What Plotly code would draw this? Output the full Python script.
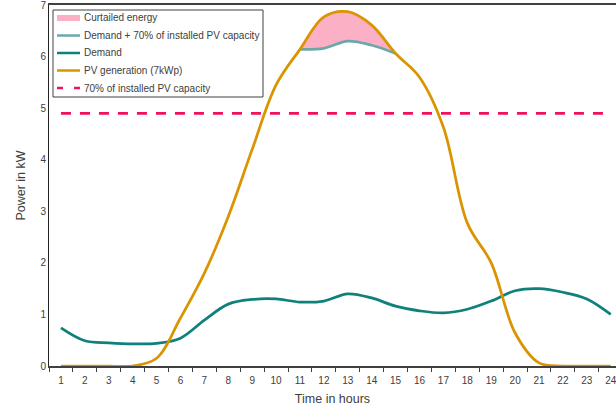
import plotly.graph_objects as go

hours = list(range(1, 25))
tick_labels = [str(h) for h in hours]
pv_generation = [0, 0, 0, 0, 0.15, 0.93, 1.8, 2.9, 4.2, 5.45, 6.14, 6.77,
                 6.87, 6.61, 6.06, 5.6, 4.63, 2.77, 2.0, 0.64, 0.06, 0, 0, 0]
demand = [0.74, 0.49, 0.45, 0.43, 0.44, 0.54, 0.89, 1.2, 1.29, 1.3, 1.24, 1.26,
          1.4, 1.32, 1.16, 1.07, 1.03, 1.1, 1.26, 1.46, 1.5, 1.43, 1.3, 1.0]
limit_70 = 4.9
curtail_hours = [11, 12, 13, 14, 15]

limit_line = [limit_70] * len(hours)
demand_plus = [demand[h - 1] + limit_70 for h in curtail_hours]
pv_curtail = [pv_generation[h - 1] for h in curtail_hours]

FONT = "Liberation Sans"
TXT = "#404040"
C_PLUS = "#6DA8A8"
C_CURT = "#FBB0C6"
C_DEM = "#0F807C"
C_PV = "#D99400"
C_LIM = "#F2105C"
LW = 2.75

W, H = 616, 411
ML, MR, MT, MB = 49, 0, 5, 45
PW, PH = W - ML - MR, H - MT - MB


def px(x):
    return (x - ML) / PW


def py(y):
    return (H - MB - y) / PH


fig = go.Figure()
fig.add_trace(go.Scatter(
    x=curtail_hours, y=demand_plus, mode="lines", name="Demand + 70% of installed PV capacity",
    line=dict(color=C_PLUS, width=LW, shape="spline")))
fig.add_trace(go.Scatter(
    x=curtail_hours, y=pv_curtail, mode="lines", name="Curtailed energy",
    line=dict(color=C_CURT, width=0, shape="spline"), fill="tonexty", fillcolor=C_CURT))
fig.add_trace(go.Scatter(
    x=hours, y=demand, mode="lines", name="Demand",
    line=dict(color=C_DEM, width=LW, shape="spline")))
fig.add_trace(go.Scatter(
    x=hours, y=pv_generation, mode="lines", name="PV generation (7kWp)",
    line=dict(color=C_PV, width=LW, shape="spline")))
fig.add_trace(go.Scatter(
    x=hours, y=limit_line, mode="lines", name="70% of installed PV capacity",
    line=dict(color=C_LIM, width=LW, dash="10px,9px")))

# custom legend (box, symbols, labels)
legend_items = ["Curtailed energy", "Demand + 70% of installed PV capacity", "Demand",
                "PV generation (7kWp)", "70% of installed PV capacity"]
legend_rows = [18, 35.5, 53, 70.5, 88]
shapes = [dict(type="rect", xref="paper", yref="paper", x0=px(53), x1=px(263), y0=py(97), y1=py(10),
               line=dict(color="#404040", width=1), fillcolor="white", layer="above")]
annotations = []
sym_colors = [C_CURT, C_PLUS, C_DEM, C_PV, C_LIM]
for i, (label, ry) in enumerate(zip(legend_items, legend_rows)):
    if i == 0:
        shapes.append(dict(type="rect", xref="paper", yref="paper", x0=px(57), x1=px(80),
                           y0=py(ry + 3), y1=py(ry - 3), line=dict(width=0),
                           fillcolor=sym_colors[i], layer="above"))
    elif i == 4:
        for a, b in [(57, 63), (74, 80)]:
            shapes.append(dict(type="line", xref="paper", yref="paper", x0=px(a), x1=px(b),
                               y0=py(ry), y1=py(ry), line=dict(color=sym_colors[i], width=2.5),
                               layer="above"))
    else:
        shapes.append(dict(type="line", xref="paper", yref="paper", x0=px(57), x1=px(80),
                           y0=py(ry), y1=py(ry), line=dict(color=sym_colors[i], width=2.5),
                           layer="above"))
    annotations.append(dict(text=label, xref="paper", yref="paper", x=px(82), y=py(ry),
                            xanchor="left", yanchor="middle", showarrow=False,
                            font=dict(family=FONT, size=10, color=TXT)))

fig.update_layout(
    width=W, height=H,
    margin=dict(l=ML, r=MR, t=MT, b=MB),
    paper_bgcolor="white", plot_bgcolor="white",
    font=dict(family=FONT, size=10, color=TXT),
    showlegend=False,
    shapes=shapes, annotations=annotations,
    xaxis=dict(range=[0.5, 24.22], tickmode="array", tickvals=hours, ticktext=tick_labels,
               ticks="", showgrid=False, zeroline=False, ticklabeloverflow="allow",
               ticklabelstandoff=4,
               showline=True, linecolor="#404040", linewidth=1.5, mirror=True,
               minor=dict(tickmode="array", tickvals=[h + 0.5 for h in range(0, 25)],
                          ticks="outside", ticklen=4, tickcolor="#404040", tickwidth=1, showgrid=False),
               title=dict(text="Time in hours", font=dict(family=FONT, size=12.5, color=TXT), standoff=9),
               tickfont=dict(family=FONT, size=10, color=TXT)),
    yaxis=dict(range=[0, 7], tickvals=list(range(0, 8)), ticks="", showgrid=False, zeroline=False,
               ticklabeloverflow="allow",
               showline=True, linecolor="#222222", linewidth=1,
               title=dict(text="Power in kW", font=dict(family=FONT, size=12.5, color=TXT), standoff=12),
               tickfont=dict(family=FONT, size=10, color=TXT)),
)

fig.write_html("out.html", config={"displayModeBar": False},
               post_script="document.body.style.margin='0px';")
